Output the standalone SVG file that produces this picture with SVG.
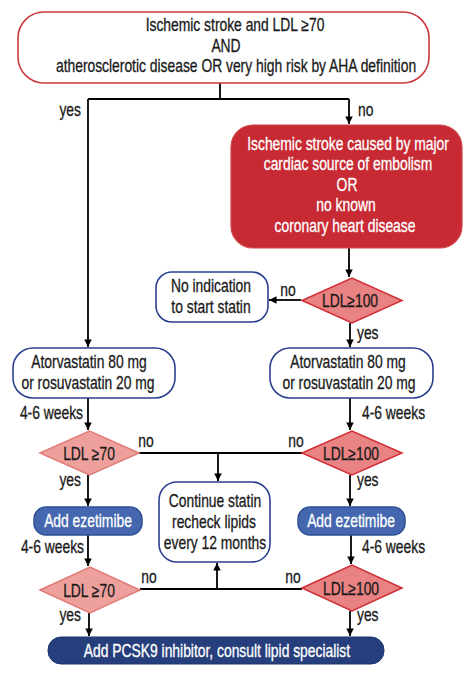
<svg xmlns="http://www.w3.org/2000/svg" width="470" height="675" viewBox="0 0 470 675">
<defs>
<marker id="ah" viewBox="0 0 10 10" refX="10" refY="5" markerWidth="4.2" markerHeight="4.2" orient="auto" markerUnits="strokeWidth">
<path d="M0,0 L10,5 L0,10 z" fill="#000"/>
</marker>
<style>
text{font-family:"Liberation Sans",Arial,sans-serif;font-size:18px;fill:#1a1a1a;stroke:#1a1a1a;stroke-width:.3;text-anchor:middle}
.w{fill:#fff;stroke:#fff}
.s{text-anchor:start}
.e{text-anchor:end}
.c{fill:none;stroke:#000;stroke-width:1.8}
.a{marker-end:url(#ah)}
.wb{fill:#fff;stroke:#2b3f8e;stroke-width:1.6}
.dl{fill:#eea19c;stroke:#e07b78;stroke-width:1.5}
.dr{fill:#e88283;stroke:#d12f35;stroke-width:1.5}
.bz{fill:#4467b0;stroke:#2d4f94;stroke-width:1.5}
</style>
</defs>
<rect width="470" height="675" fill="#fff"/>

<g id="connectors">
<path class="c" d="M220,83 V99 M88,99 H349"/>
<path class="c a" d="M88,99 V347"/>
<path class="c a" d="M349,99 V124"/>
<path class="c a" d="M349,248 V277"/>
<path class="c a" d="M301,300 H269"/>
<path class="c a" d="M350,323 V347"/>
<path class="c a" d="M88,398 V430"/>
<path class="c a" d="M350,398 V430"/>
<path class="c" d="M139,453 H302"/>
<path class="c a" d="M218,453 V481"/>
<path class="c a" d="M88,475 V506"/>
<path class="c a" d="M350,475 V506"/>
<path class="c a" d="M88,535 V566"/>
<path class="c a" d="M351,535 V564"/>
<path class="c" d="M140,589 H302"/>
<path class="c a" d="M217,589 V563"/>
<path class="c a" d="M89,613 V636"/>
<path class="c a" d="M350,611 V636"/>
<text class="e" transform="translate(81 116) scale(.77 1)">yes</text>
<text class="s" transform="translate(358 116) scale(.77 1)">no</text>
<text transform="translate(288 296) scale(.77 1)">no</text>
<text class="s" transform="translate(357 339) scale(.77 1)">yes</text>
<text class="e" transform="translate(83 419) scale(.77 1)">4-6 weeks</text>
<text class="s" transform="translate(362 419) scale(.77 1)">4-6 weeks</text>
<text transform="translate(146 447) scale(.77 1)">no</text>
<text transform="translate(296 447) scale(.77 1)">no</text>
<text class="e" transform="translate(81 486) scale(.77 1)">yes</text>
<text class="s" transform="translate(357 486) scale(.77 1)">yes</text>
<text class="e" transform="translate(84 553) scale(.77 1)">4-6 weeks</text>
<text class="s" transform="translate(362 553) scale(.77 1)">4-6 weeks</text>
<text transform="translate(149 583) scale(.77 1)">no</text>
<text transform="translate(293 583) scale(.77 1)">no</text>
<text class="e" transform="translate(81 621) scale(.77 1)">yes</text>
<text class="s" transform="translate(357 621) scale(.77 1)">yes</text>
</g>

<g id="start">
<rect x="18" y="12" width="411" height="71" rx="26" fill="#fff" stroke="#c9393e" stroke-width="1.6"/>
<text transform="translate(235 31) scale(.77 1)">Ischemic stroke and LDL ≥70</text>
<text transform="translate(226 52) scale(.77 1)">AND</text>
<text transform="translate(236 72) scale(.77 1)">atherosclerotic disease OR very high risk by AHA definition</text>
</g>

<g id="cardiac">
<rect x="231" y="125" width="231" height="123" rx="22" fill="#c72a33" stroke="#d0454b" stroke-width="1.2"/>
<text class="w" transform="translate(348 150) scale(.77 1)">Ischemic stroke caused by major</text>
<text class="w" transform="translate(348 170) scale(.77 1)">cardiac source of embolism</text>
<text class="w" transform="translate(347 191) scale(.77 1)">OR</text>
<text class="w" transform="translate(346 211) scale(.77 1)">no known</text>
<text class="w" transform="translate(345 232) scale(.77 1)">coronary heart disease</text>
</g>

<g id="ldl100a">
<polygon class="dr" points="302,300.5 352,278 402,300.5 352,323"/>
<text transform="translate(350 307) scale(.77 1)">LDL≥100</text>
</g>

<g id="noindication">
<rect class="wb" x="156" y="272" width="112" height="50" rx="16"/>
<text transform="translate(211 292) scale(.77 1)">No indication</text>
<text transform="translate(211 313) scale(.77 1)">to start statin</text>
</g>

<g id="statinL">
<rect class="wb" x="13" y="348" width="162" height="50" rx="20"/>
<text transform="translate(89 368) scale(.77 1)">Atorvastatin 80 mg</text>
<text transform="translate(88 389) scale(.77 1)">or rosuvastatin 20 mg</text>
</g>

<g id="statinR">
<rect class="wb" x="270" y="348" width="163" height="50" rx="20"/>
<text transform="translate(348 368) scale(.77 1)">Atorvastatin 80 mg</text>
<text transform="translate(349 389) scale(.77 1)">or rosuvastatin 20 mg</text>
</g>

<g id="ldl70a">
<polygon class="dl" points="40,453 89.5,431 139,453 89.5,475"/>
<text transform="translate(89 460) scale(.77 1)">LDL ≥70</text>
</g>

<g id="ldl100b">
<polygon class="dr" points="302,453 352,431 402,453 352,475"/>
<text transform="translate(351 460) scale(.77 1)">LDL≥100</text>
</g>

<g id="continue">
<rect class="wb" x="159" y="482" width="111" height="80" rx="18"/>
<text transform="translate(215 507) scale(.77 1)">Continue statin</text>
<text transform="translate(214 528) scale(.77 1)">recheck lipids</text>
<text transform="translate(215 549) scale(.77 1)">every 12 months</text>
</g>

<g id="ezeL">
<rect class="bz" x="34" y="507" width="108" height="28" rx="12"/>
<text class="w" transform="translate(88 527) scale(.77 1)">Add ezetimibe</text>
</g>

<g id="ezeR">
<rect class="bz" x="298" y="507" width="107" height="28" rx="12"/>
<text class="w" transform="translate(351 527) scale(.77 1)">Add ezetimibe</text>
</g>

<g id="ldl70b">
<polygon class="dl" points="40,590 90,567 140,590 90,613"/>
<text transform="translate(89 597) scale(.77 1)">LDL ≥70</text>
</g>

<g id="ldl100c">
<polygon class="dr" points="302,588 352,565 402,588 352,611"/>
<text transform="translate(351 595) scale(.77 1)">LDL≥100</text>
</g>

<g id="pcsk9">
<rect x="48" y="637" width="336" height="27" rx="13" fill="#263f7c" stroke="#1e356c" stroke-width="1"/>
<text class="w" transform="translate(217 657) scale(.77 1)">Add PCSK9 inhibitor, consult lipid specialist</text>
</g>
</svg>
